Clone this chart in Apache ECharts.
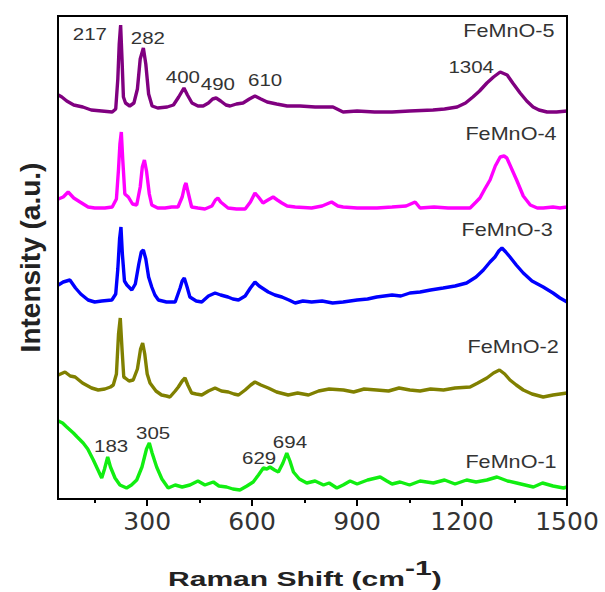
<!DOCTYPE html>
<html><head><meta charset="utf-8">
<script src="https://cdn.jsdelivr.net/npm/echarts@6/dist/echarts.min.js"></script>
<style>html,body{margin:0;padding:0;background:#fff}#c,#tmp{width:605px;height:592px}#tmp{position:absolute;left:-2000px;top:0}</style>
</head><body><div id="c"></div><div id="tmp"></div>
<script>
// ---- data ----
const seriesNames = ['FeMnO-1', 'FeMnO-2', 'FeMnO-3', 'FeMnO-4', 'FeMnO-5'];
const seriesColors = ['#11ee11', '#808000', '#0000ff', '#ff00ff', '#800080'];

const fe1 = [[46,78],[58,76],[70,72],[89,66],[100,62],[117,56],[130,50],[146,39],[158,30],[170,21],[178,30],[187,42],[195,32],[208,21],[222,14],[241,11],[255,14],[270,19],[285,32],[298,50],[306,56],[314,46],[327,32],[342,20],[360,11],[380,14],[400,12],[422,14],[445,18],[465,14],[489,17],[505,13],[527,12],[545,10],[565,9],[585,13],[603,17],[618,24],[632,31],[642,30],[651,32],[664,29],[675,27],[688,36],[699,46],[708,38],[718,27],[735,20],[756,16],[780,18],[804,14],[820,16],[842,11],[860,14],[880,18],[900,15],[930,19],[966,22],[985,18],[1000,15],[1023,17],[1050,14],[1080,18],[1118,16],[1150,19],[1180,15],[1213,19],[1240,17],[1271,19],[1300,22],[1330,18],[1356,16],[1380,14],[1404,12],[1430,16],[1460,13],[1490,11],[1500,12]];

const fe2 = [[46,124],[65,127],[80,123],[94,122],[115,116],[141,111],[160,109],[179,110],[195,112],[203,114],[212,125],[218,165],[223,181],[228,150],[233,122],[237,121],[248,118],[260,119],[272,130],[281,150],[287,156],[293,145],[300,125],[308,116],[325,108],[341,104],[355,103],[365,102],[380,108],[389,112],[400,118],[408,121],[416,114],[427,106],[440,105],[456,104],[475,108],[494,111],[512,108],[532,107],[548,105],[561,104],[580,109],[596,114],[608,117],[625,114],[646,111],[670,107],[703,104],[730,106],[761,104],[790,108],[820,110],[861,109],[890,107],[920,110],[956,109],[990,108],[1020,111],[1051,109],[1080,108],[1110,110],[1147,109],[1180,111],[1223,112],[1245,116],[1271,121],[1290,126],[1307,129],[1322,125],[1337,119],[1355,114],[1375,109],[1400,105],[1432,102],[1460,104],[1480,105],[1500,106]];

const fe3 = [[46,214],[60,217],[79,219],[95,211],[110,205],[131,199],[150,197],[170,198],[199,199],[210,205],[216,230],[221,260],[225,272],[229,245],[235,218],[242,214],[256,209],[266,215],[276,235],[283,247],[289,249],[296,240],[304,222],[313,212],[322,204],[332,199],[355,197],[380,197],[394,211],[400,218],[406,221],[414,212],[422,202],[440,198],[456,197],[475,203],[494,206],[510,204],[531,202],[545,200],[561,199],[580,203],[595,211],[608,217],[620,213],[646,207],[665,204],[685,202],[705,199],[723,196],[745,198],[770,197],[800,198],[830,196],[860,197],[900,199],[930,200],[956,202],[1000,204],[1025,203],[1051,206],[1080,207],[1110,209],[1146,211],[1180,213],[1213,216],[1240,222],[1261,229],[1280,237],[1294,242],[1305,248],[1314,251],[1325,247],[1337,242],[1355,234],[1375,226],[1400,218],[1432,212],[1460,206],[1480,201],[1500,197]];

const fe4 = [[46,300],[60,302],[74,307],[90,301],[108,297],[131,292],[150,291],[179,291],[200,292],[212,300],[218,330],[222,355],[226,367],[230,340],[236,305],[246,302],[258,295],[270,294],[280,312],[286,332],[292,339],[298,328],[306,305],[313,294],[330,291],[351,291],[370,292],[388,292],[400,302],[407,313],[411,316],[416,308],[427,292],[445,291],[465,290],[485,293],[495,299],[502,301],[510,297],[531,291],[555,290],[580,290],[595,297],[608,306],[618,302],[631,296],[645,299],[660,302],[672,299],[685,296],[700,293],[723,292],[770,291],[800,293],[827,297],[845,293],[860,292],[900,291],[957,291],[1000,292],[1040,293],[1066,297],[1080,291],[1120,292],[1160,291],[1200,291],[1223,291],[1240,297],[1251,301],[1265,310],[1280,319],[1295,333],[1309,342],[1320,343],[1328,341],[1342,330],[1356,319],[1375,303],[1395,294],[1415,291],[1432,291],[1460,292],[1480,291],[1500,292]];

const fe5 = [[46,404],[56,402],[70,398],[90,394],[116,392],[140,389],[170,388],[200,387],[210,390],[216,420],[220,455],[224,474],[228,440],[232,402],[238,396],[250,393],[262,396],[272,410],[280,440],[289,451],[296,435],[304,405],[314,393],[330,391],[357,392],[375,394],[390,402],[405,411],[415,404],[428,396],[445,393],[460,393],[475,396],[487,400],[497,401],[510,398],[525,394],[537,393],[555,395],[574,396],[592,400],[608,403],[625,400],[643,397],[670,395],[700,393],[737,393],[780,392],[831,392],[860,387],[900,388],[950,387],[1000,387],[1050,388],[1117,389],[1150,390],[1186,392],[1210,396],[1231,402],[1250,408],[1271,416],[1290,422],[1309,427],[1329,424],[1345,416],[1366,406],[1385,398],[1403,392],[1420,389],[1443,387],[1470,387],[1500,388]];

const majorTicks = [300, 600, 900, 1200, 1500];
const minorTicks = [150, 450, 750, 1050, 1350];

const peakLabels = ['217', '282', '400', '490', '610', '1304', '183', '305', '629', '694'];
const peakX = [136, 302, 402, 502, 637, 1226, 197, 317, 620, 708];
const peakY = [465, 461, 422, 415, 419, 432, 53, 66, 41, 57];

const nameX = [1340, 1346, 1329, 1340, 1334];
const nameY = [37, 152, 269, 365, 468];

// ---- layout ----
const GL = 58, GT = 16, GR = 567, GB = 499, W = 605, H = 592, BW = 2;
const X_MIN = 45, X_MAX = 1500, Y_MIN = 0, Y_MAX = 483;
const allData = [fe1, fe2, fe3, fe4, fe5];
const FONT = '"Liberation Sans", Arial, sans-serif';

const gridOpt = {left: GL, right: W - GR, top: GT, bottom: H - GB};

// helper chart (off-screen) used only to map label anchors through the library's scales
const tmp = echarts.init(document.getElementById('tmp'), null, {renderer: 'svg'});
tmp.setOption({animation: false, grid: gridOpt, xAxis: {type: 'value', min: X_MIN, max: X_MAX}, yAxis: {type: 'value', min: Y_MIN, max: Y_MAX}, series: []});
const toPx = (x, y) => tmp.convertToPixel({xAxisIndex: 0, yAxisIndex: 0}, [x, y]);

// plot frame as four thin filled bars
const frameRects = [
  [GL - BW / 2, GT - BW / 2, GR - GL + BW, BW],
  [GL - BW / 2, GB - BW / 2, GR - GL + BW, BW],
  [GL - BW / 2, GT - BW / 2, BW, GB - GT + BW],
  [GR - BW / 2, GT - BW / 2, BW, GB - GT + BW]
];
const graphics = frameRects.map(r => ({type: 'rect', z: 50, shape: {x: r[0], y: r[1], width: r[2], height: r[3]}, style: {fill: '#000'}}));

peakLabels.forEach((t, i) => {
  const p = toPx(peakX[i], peakY[i]);
  graphics.push({type: 'text', x: p[0], y: p[1], scaleX: 1.28,
    style: {text: t, x: 0, y: 0, font: '16px ' + FONT, fill: '#333', textAlign: 'center', textVerticalAlign: 'middle', align: 'center', verticalAlign: 'middle'}});
});
seriesNames.forEach((t, i) => {
  const p = toPx(nameX[i], nameY[i]);
  graphics.push({type: 'text', x: p[0], y: p[1], scaleX: 1.2,
    style: {text: t, x: 0, y: 0, font: '18px ' + FONT, fill: '#333', textAlign: 'center', textVerticalAlign: 'middle', align: 'center', verticalAlign: 'middle'}});
});
graphics.push({
  type: 'group', x: 168, y: 579, scaleX: 1.43,
  children: [
    {type: 'text', style: {text: 'Raman Shift (cm', x: 0, y: 0, font: 'bold 21px ' + FONT, fill: '#222', textAlign: 'left', textVerticalAlign: 'middle', align: 'left', verticalAlign: 'middle'}},
    {type: 'text', style: {text: '-1', x: 165.7, y: -11, font: 'bold 21px ' + FONT, fill: '#222', textAlign: 'left', textVerticalAlign: 'middle', align: 'left', verticalAlign: 'middle'}},
    {type: 'text', style: {text: ')', x: 184.4, y: 0, font: 'bold 21px ' + FONT, fill: '#222', textAlign: 'left', textVerticalAlign: 'middle', align: 'left', verticalAlign: 'middle'}}
  ]
});
tmp.dispose();

// ---- the chart ----
const chart = echarts.init(document.getElementById('c'), null, {renderer: 'svg'});
chart.setOption({
  animation: false,
  grid: gridOpt,
  xAxis: [{
    type: 'value', min: X_MIN, max: X_MAX, position: 'bottom',
    axisLine: {show: false},
    axisTick: {show: true, length: 7, lineStyle: {color: '#000', width: 2}, customValues: majorTicks},
    axisLabel: {show: true, customValues: majorTicks, fontSize: 25, fontFamily: 'DejaVu Sans', color: '#333', margin: 10,
      formatter: v => String(v)},
    splitLine: {show: false}
  }, {
    type: 'value', min: X_MIN, max: X_MAX, position: 'bottom',
    axisLine: {show: false},
    axisTick: {show: true, length: 4, lineStyle: {color: '#000', width: 2}, customValues: minorTicks},
    axisLabel: {show: false}, splitLine: {show: false}
  }],
  yAxis: {
    type: 'value', min: Y_MIN, max: Y_MAX, position: 'left',
    axisLine: {show: false}, axisTick: {show: false}, axisLabel: {show: false}, splitLine: {show: false},
    name: 'Intensity (a.u.)', nameLocation: 'middle', nameGap: 14,
    nameTextStyle: {fontSize: 28, fontWeight: 'bold', fontFamily: FONT, color: '#222'}
  },
  graphic: graphics,
  series: allData.map((d, i) => ({
    name: seriesNames[i], type: 'line', data: d, xAxisIndex: 0, yAxisIndex: 0,
    showSymbol: false, symbol: 'none',
    lineStyle: {color: seriesColors[i], width: 3.4}, itemStyle: {color: seriesColors[i]}
  }))
});
</script>
</body></html>
